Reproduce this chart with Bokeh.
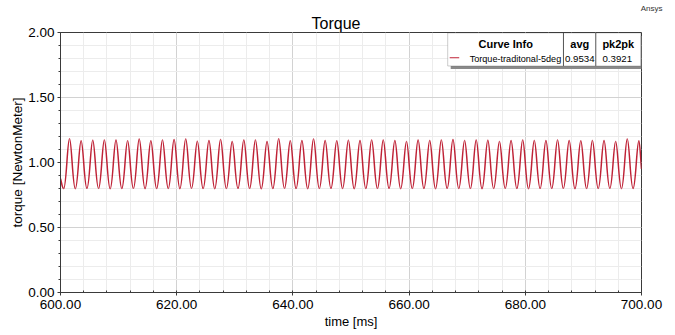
from bokeh.plotting import figure
from bokeh.models import (ColumnDataSource, SingleIntervalTicker, PrintfTickFormatter,
                          Label, BoxAnnotation, Range1d, Arrow, Title)
from bokeh.embed import file_html
from bokeh.resources import INLINE

# ---------------- data ----------------
title_text = "Torque"
x_label = "time [ms]"
y_label = "torque [NewtonMeter]"
brand_text = "Ansys"
curve_name = "Torque-traditonal-5deg"
stat_avg = "0.9534"
stat_pk2pk = "0.3921"
legend_headers = ["Curve Info", "avg", "pk2pk"]

x_range = (600.0, 700.0)
y_range = (0.0, 2.0)

start_time = 600.0
start_value = 0.875
end_time = 700.0
end_value = 0.95

trough_times = [600.55, 602.55, 604.55, 606.55, 608.55, 610.55, 612.55, 614.55, 616.55, 618.55,
                620.55, 622.55, 624.55, 626.55, 628.55, 630.55, 632.55, 634.55, 636.55, 638.55,
                640.55, 642.55, 644.55, 646.55, 648.55, 650.55, 652.55, 654.55, 656.55, 658.55,
                660.55, 662.55, 664.55, 666.55, 668.55, 670.55, 672.55, 674.55, 676.55, 678.55,
                680.55, 682.55, 684.55, 686.55, 688.55, 690.55, 692.55, 694.55, 696.55, 698.55]
trough_values = [0.800, 0.799, 0.801, 0.800, 0.798, 0.800, 0.801, 0.799, 0.800, 0.800,
                 0.799, 0.801, 0.800, 0.799, 0.800, 0.801, 0.800, 0.798, 0.800, 0.801,
                 0.800, 0.799, 0.800, 0.801, 0.800, 0.799, 0.800, 0.800, 0.801, 0.799,
                 0.800, 0.800, 0.799, 0.801, 0.800, 0.800, 0.799, 0.800, 0.801, 0.800,
                 0.799, 0.800, 0.800, 0.801, 0.799, 0.800, 0.800, 0.801, 0.799, 0.800]
peak_times = [601.55, 603.55, 605.55, 607.55, 609.55, 611.55, 613.55, 615.55, 617.55, 619.55,
              621.55, 623.55, 625.55, 627.55, 629.55, 631.55, 633.55, 635.55, 637.55, 639.55,
              641.55, 643.55, 645.55, 647.55, 649.55, 651.55, 653.55, 655.55, 657.55, 659.55,
              661.55, 663.55, 665.55, 667.55, 669.55, 671.55, 673.55, 675.55, 677.55, 679.55,
              681.55, 683.55, 685.55, 687.55, 689.55, 691.55, 693.55, 695.55, 697.55, 699.55]
peak_values = [1.182, 1.167, 1.172, 1.174, 1.174, 1.167, 1.180, 1.167, 1.174, 1.177,
               1.180, 1.164, 1.169, 1.177, 1.162, 1.174, 1.174, 1.162, 1.182, 1.167,
               1.169, 1.180, 1.169, 1.167, 1.172, 1.169, 1.174, 1.174, 1.169, 1.162,
               1.174, 1.169, 1.174, 1.177, 1.169, 1.174, 1.172, 1.162, 1.169, 1.174,
               1.169, 1.169, 1.174, 1.169, 1.167, 1.169, 1.169, 1.162, 1.180, 1.167]

# ---------------- styling ----------------
FONT = "Liberation Sans"
LINE_COLOR = "#bf2236"
AXIS_COLOR = "#3a3a3a"

# reference pixel geometry of the frame, used for placing annotations
X0_PX, X1_PX = 60.0, 640.7
Y0_PX, Y1_PX = 291.7, 32.3


def px2x(px):
    return x_range[0] + (px - X0_PX) * (x_range[1] - x_range[0]) / (X1_PX - X0_PX)


def px2y(py):
    return y_range[0] + (Y0_PX - py) * (y_range[1] - y_range[0]) / (Y0_PX - Y1_PX)


# ---------------- build curve segments (smooth between extremes) ----------------
nodes_t = [start_time]
nodes_v = [start_value]
kinds = ["edge"]
for tt, tv, pt, pv in zip(trough_times, trough_values, peak_times, peak_values):
    nodes_t += [tt, pt]
    nodes_v += [tv, pv]
    kinds += ["trough", "peak"]
nodes_t.append(end_time)
nodes_v.append(end_value)
kinds.append("edge")

handle = {"peak": 0.36, "trough": 0.45}
seg = dict(x0=[], y0=[], x1=[], y1=[], cx0=[], cy0=[], cx1=[], cy1=[])
for i in range(len(nodes_t) - 1):
    x0, y0, x1, y1 = nodes_t[i], nodes_v[i], nodes_t[i + 1], nodes_v[i + 1]
    dx = x1 - x0
    if kinds[i] == "edge":
        cx0, cy0 = x0 + dx / 3, y0 + (y1 - y0) / 3
    else:
        cx0, cy0 = x0 + handle[kinds[i]] * dx, y0
    if kinds[i + 1] == "edge":
        cx1, cy1 = x1 - dx / 3, y1 - (y1 - y0) / 3
    else:
        cx1, cy1 = x1 - handle[kinds[i + 1]] * dx, y1
    for k, v in zip(("x0", "y0", "x1", "y1", "cx0", "cy0", "cx1", "cy1"),
                    (x0, y0, x1, y1, cx0, cy0, cx1, cy1)):
        seg[k].append(v)
src = ColumnDataSource(seg)

# ---------------- figure ----------------
p = figure(width=675, height=335, output_backend="svg", toolbar_location=None,
           x_range=Range1d(*x_range), y_range=Range1d(*y_range),
           min_border_left=60, min_border_right=34, min_border_top=32, min_border_bottom=43)
p.background_fill_color = "white"
p.border_fill_color = "white"
p.outline_line_color = AXIS_COLOR
p.outline_line_width = 1

# outer title row: small brand text at top right
p.title.text = brand_text
p.title.text_font = FONT
p.title.text_font_size = "8px"
p.title.text_font_style = "normal"
p.title.text_color = "#333333"
p.title.align = "right"
p.title.offset = -21
p.title.standoff = 0

# inner title row: chart title
p.add_layout(Title(text=title_text, text_font=FONT, text_font_size="16px",
                   text_font_style="normal", text_color="black", align="left",
                   offset=251, standoff=1), "above")

p.xaxis.ticker = SingleIntervalTicker(interval=20, num_minor_ticks=5)
p.yaxis.ticker = SingleIntervalTicker(interval=0.5, num_minor_ticks=5)
p.xaxis.formatter = PrintfTickFormatter(format="%.2f")
p.yaxis.formatter = PrintfTickFormatter(format="%.2f")

for ax in (p.xaxis, p.yaxis):
    ax.axis_line_color = AXIS_COLOR
    ax.major_tick_line_color = AXIS_COLOR
    ax.minor_tick_line_color = AXIS_COLOR
    ax.major_tick_out = 3
    ax.major_tick_in = 0
    ax.major_label_text_font = FONT
    ax.major_label_text_font_size = "13.5px"
    ax.major_label_text_color = "black"
    ax.axis_label_text_font = FONT
    ax.axis_label_text_font_style = "normal"
    ax.axis_label_text_color = "black"

p.xaxis.axis_label_text_font_size = "13px"
p.yaxis.axis_label_text_font_size = "13.5px"
p.xaxis.minor_tick_in = 2
p.xaxis.minor_tick_out = 0
p.yaxis.minor_tick_in = 0
p.yaxis.minor_tick_out = 2
p.xaxis.major_label_standoff = 4
p.yaxis.major_label_standoff = 3
p.xaxis.axis_label = x_label
p.yaxis.axis_label = y_label
p.xaxis.axis_label_standoff = 2
p.yaxis.axis_label_standoff = 0

p.xgrid.grid_line_color = "#d2d2d2"
p.ygrid.grid_line_color = "#d2d2d2"
p.xgrid.minor_grid_line_color = "#ececec"
p.ygrid.minor_grid_line_color = "#ececec"

p.bezier(x0="x0", y0="y0", x1="x1", y1="y1", cx0="cx0", cy0="cy0", cx1="cx1", cy1="cy1",
         source=src, line_color=LINE_COLOR, line_width=1.5)

# ---------------- Ansys-style legend table ----------------
lb_l, lb_r, lb_t, lb_b = 447.0, 640.0, 32.7, 65.7
p.add_layout(BoxAnnotation(left=px2x(lb_l + 3), right=px2x(lb_r + 3), top=px2y(lb_t + 3),
                           bottom=px2y(lb_b + 3), fill_color="#8a8a8a", fill_alpha=1,
                           line_alpha=0))
p.add_layout(BoxAnnotation(left=px2x(lb_l), right=px2x(lb_r), top=px2y(lb_t),
                           bottom=px2y(lb_b), fill_color="white", fill_alpha=1,
                           line_color="#555555", line_width=1))
for sep in (562.7, 595.0):
    p.add_layout(Arrow(end=None, x_start=px2x(sep), y_start=px2y(lb_t), x_end=px2x(sep),
                       y_end=px2y(lb_b), line_color="#555555", line_width=1))

header_x = [505.0, 579.0, 617.5]
for hx, txt in zip(header_x, legend_headers):
    p.add_layout(Label(x=px2x(hx), y=px2y(44.0), text=txt, text_font=FONT,
                       text_font_size="11px", text_font_style="bold", text_align="center",
                       text_baseline="middle", text_color="black"))
p.add_layout(Arrow(end=None, x_start=px2x(449), y_start=px2y(57.5), x_end=px2x(458.5),
                   y_end=px2y(57.5), line_color=LINE_COLOR, line_width=1.2))
row_x = [514.7, 579.0, 616.5]
row_size = ["9.1px", "9.7px", "9.7px"]
for rx, txt, fs in zip(row_x, [curve_name, stat_avg, stat_pk2pk], row_size):
    p.add_layout(Label(x=px2x(rx), y=px2y(59.0), text=txt, text_font=FONT,
                       text_font_size=fs, text_align="center",
                       text_baseline="middle", text_color="black"))

open("out.html", "w").write(file_html(p, INLINE))
